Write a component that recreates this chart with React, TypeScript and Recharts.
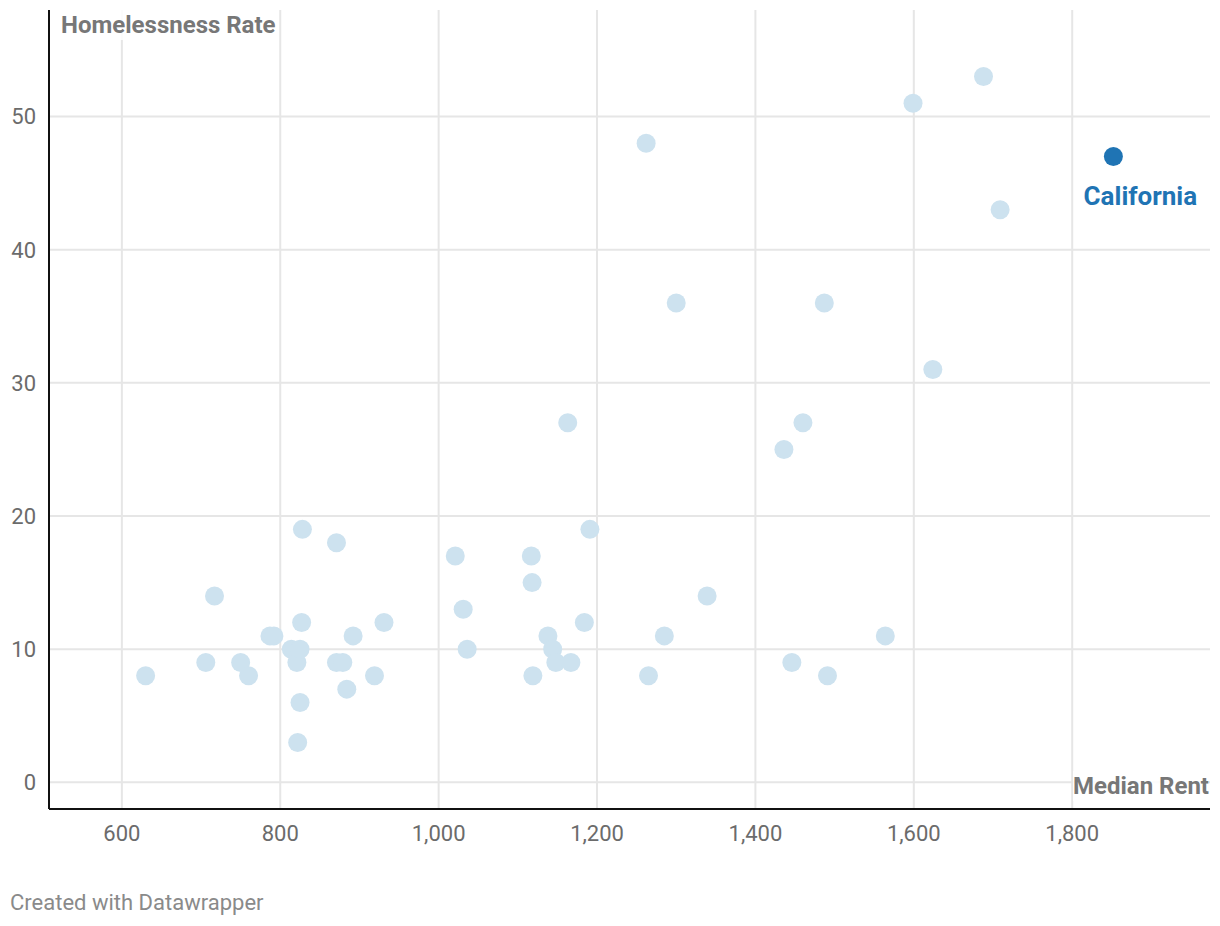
import React from 'react';
import { ScatterChart, Scatter, XAxis, YAxis, CartesianGrid, LabelList } from 'recharts';

// median rent per state (USD)
const rent = [
  630, 706, 717, 750, 760, 787, 792, 814, 821, 825, 822, 825, 827, 828, 871, 871, 879, 884, 892, 919,
  931, 1021, 1031, 1036, 1117, 1118, 1119, 1138, 1144, 1148, 1163, 1167, 1184, 1191, 1262, 1265, 1285,
  1300, 1339, 1436, 1446, 1460, 1487, 1491, 1564, 1599, 1624, 1688, 1709,
];

// homelessness rate per state
const rate = [
  8, 9, 14, 9, 8, 11, 11, 10, 9, 10, 3, 6, 12, 19, 18, 9, 9, 7, 11, 8,
  12, 17, 13, 10, 17, 15, 8, 11, 10, 9, 27, 9, 12, 19, 48, 8, 11,
  36, 14, 25, 9, 27, 36, 8, 11, 51, 31, 53, 43,
];

const highlightName = 'California';
const highlightRent = 1852;
const highlightRate = 47;

const xTicks = [600, 800, 1000, 1200, 1400, 1600, 1800];
const yTicks = [0, 10, 20, 30, 40, 50];
const xDomain = [508, 1974];
const yDomain = [-2, 58];

const LIGHT = '#cde2ef';
const DARK = '#1f74b4';
const FONT = 'Roboto, "Noto Sans", sans-serif';

const fmt = (v: number) => v.toLocaleString('en-US');

const Dot = (color: string) => (props: any) => (
  <circle cx={props.cx} cy={props.cy} r={9.5} fill={color} />
);

// grid lines only at the ticks (no border on top / right)
const hLines = ({ offset }: any) =>
  yTicks.map((t) => offset.top + ((yDomain[1] - t) / (yDomain[1] - yDomain[0])) * offset.height);
const vLines = ({ offset }: any) =>
  xTicks.map((t) => offset.left + ((t - xDomain[0]) / (xDomain[1] - xDomain[0])) * offset.width);

const App: React.FC = () => {
  const others = rent.map((r, i) => ({ rent: r, rate: rate[i] }));
  const highlight = [{ rent: highlightRent, rate: highlightRate, name: highlightName }];

  return (
    <div style={{ position: 'absolute', left: 0, top: 0, width: 1220, height: 926, background: '#fff', fontFamily: FONT }}>
      <ScatterChart width={1220} height={860} margin={{ top: 10, right: 10, left: 0, bottom: 0 }}>
        <CartesianGrid
          stroke="#e6e6e6"
          strokeWidth={2}
          horizontalCoordinatesGenerator={hLines}
          verticalCoordinatesGenerator={vLines}
        />
        <XAxis
          type="number"
          dataKey="rent"
          domain={xDomain}
          ticks={xTicks}
          tickFormatter={fmt}
          height={51}
          axisLine={{ stroke: '#111', strokeWidth: 2 }}
          tickLine={false}
          tickSize={0}
          tickMargin={16}
          tick={{ fill: '#6b6b6b', fontSize: 22, fontFamily: FONT }}
        />
        <YAxis
          type="number"
          dataKey="rate"
          domain={yDomain}
          ticks={yTicks}
          width={49}
          axisLine={{ stroke: '#111', strokeWidth: 2 }}
          tickLine={false}
          tickSize={0}
          tickMargin={13}
          tick={{ fill: '#6b6b6b', fontSize: 22, fontFamily: FONT }}
        />
        <Scatter data={others} shape={Dot(LIGHT)} isAnimationActive={false} />
        <Scatter data={highlight} shape={Dot(DARK)} isAnimationActive={false}>
          <LabelList
            dataKey="name"
            content={(p: any) => (
              <text
                x={p.x + p.width / 2 + 27}
                y={p.y + p.height / 2 + 49}
                textAnchor="middle"
                fill={DARK}
                fontSize={26}
                fontWeight={700}
                fontFamily={FONT}
              >
                {p.value}
              </text>
            )}
          />
        </Scatter>
      </ScatterChart>
      <div style={{ position: 'absolute', left: 61, top: 10, fontSize: 24, fontWeight: 700, color: '#777', background: 'rgba(255,255,255,0.85)', lineHeight: '30px' }}>
        Homelessness Rate
      </div>
      <div style={{ position: 'absolute', right: 11, top: 771, fontSize: 24, fontWeight: 700, color: '#777', background: 'rgba(255,255,255,0.85)', lineHeight: '30px' }}>
        Median Rent
      </div>
      <div style={{ position: 'absolute', left: 10, top: 888, fontSize: 22, color: '#8a8a8a', lineHeight: '30px' }}>
        Created with Datawrapper
      </div>
    </div>
  );
};

export default App;
